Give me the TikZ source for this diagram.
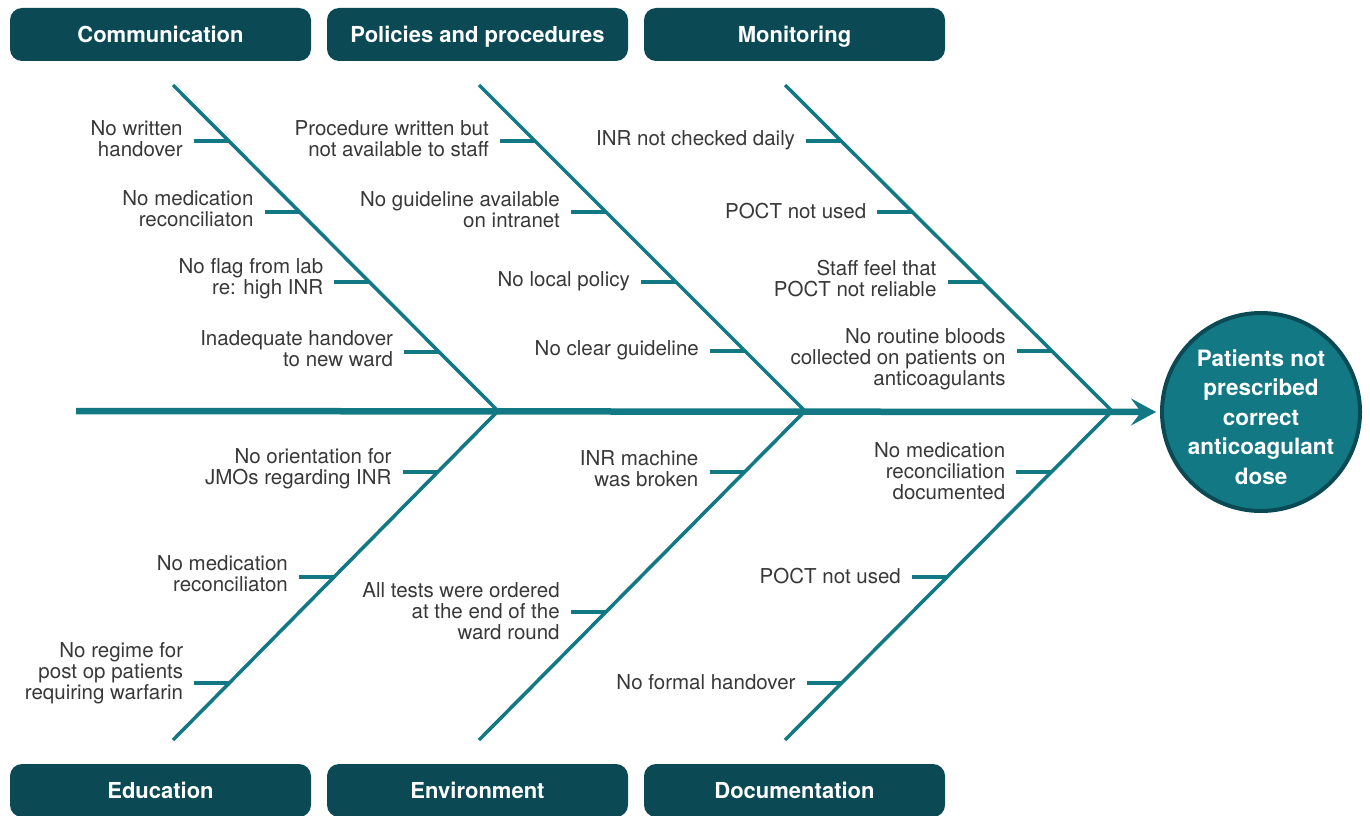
\documentclass[tikz,border=0pt]{standalone}
\usepackage{fontspec}
\setmainfont{TeX Gyre Heros}
\usetikzlibrary{arrows.meta,positioning,calc}

\definecolor{boxteal}{HTML}{0B4A54}
\definecolor{lineteal}{HTML}{127984}
\definecolor{txtgrey}{HTML}{383838}

\tikzset{
  catbox/.style={fill=boxteal, rounded corners=12pt, minimum width=301pt, minimum height=53pt,
    inner sep=0pt, text height=18.5pt, text depth=2.5pt, text=white,
    font=\fontsize{22}{26}\selectfont\bfseries},
  cause/.style={align=right, inner sep=0pt, text=txtgrey, font=\fontsize{20.5}{21}\selectfont},
  bone/.style={draw=lineteal, line width=3.5pt},
  tick/.style={draw=lineteal, line width=3.5pt},
  spine/.style={draw=lineteal, line width=6.5pt, -{Stealth[length=25pt,width=27pt,inset=10pt]}},
  effect/.style={circle, fill=lineteal, draw=boxteal, line width=4pt, minimum size=198pt, inner sep=0pt},
  effecttext/.style={align=center, inner sep=0pt, text=white, font=\fontsize{22.5}{29.5}\selectfont\bfseries},
}

\begin{document}
\begin{tikzpicture}[x=1pt,y=-1pt]
\useasboundingbox (0,0) rectangle (1370,816);

% categories
\node[catbox] (comm) at (160.5,34.5) {Communication};
\node[catbox] (poli) at (477.5,34.5) {Policies and procedures};
\node[catbox] (moni) at (794.5,34.5) {Monitoring};
\node[catbox] (educ) at (160.5,790.5) {Education};
\node[catbox] (envi) at (477.5,790.5) {Environment};
\node[catbox] (docu) at (794.5,790.5) {Documentation};

% effect and spine
\node[effect] (problem) at (1261,412) {};
\node[effecttext] (problemtxt) at ([yshift=-5pt]problem.center) {Patients not\\prescribed\\correct\\anticoagulant\\dose};
\coordinate (tail) at (76,411);
\draw[spine] (tail) -- ([xshift=-4pt]problem.west);

% bones
\coordinate (commtop) at (173,85);
\coordinate (politop) at (479,85);
\coordinate (monitop) at (785,85);
\coordinate (jointA) at (498,411);
\coordinate (jointB) at (805,411);
\coordinate (jointC) at (1112,411);
\coordinate (educend) at (173,740);
\coordinate (enviend) at (479,740);
\coordinate (docuend) at (785,740);

\draw[bone] (commtop) -- (jointA) -- (educend);
\draw[bone] (politop) -- (jointB) -- (enviend);
\draw[bone] (monitop) -- (jointC) -- (docuend);

% causes: tick y / shift / text
\foreach \t/\s/\txt [count=\i] in {141/2/{No written\\handover}, 212/3/{No medication\\reconciliaton},
    282/3/{No flag from lab\\re: high INR}, 352/3/{Inadequate handover\\to new ward}} {
  \coordinate (comm\i) at ($(commtop)!{(\t-85)/326}!(jointA)$);
  \node[cause, anchor=east] (commtxt\i) at ([xshift=-46pt,yshift=\s pt]comm\i) {\txt};
  \draw[tick] ([xshift=-35pt]comm\i) -- (comm\i);
}

\foreach \t/\s/\txt [count=\i] in {141/2/{Procedure written but\\not available to staff},
    212/2/{No guideline available\\on intranet}, 282/1/{No local policy}, 351/1/{No clear guideline}} {
  \coordinate (poli\i) at ($(politop)!{(\t-85)/326}!(jointB)$);
  \node[cause, anchor=east] (politxt\i) at ([xshift=-46pt,yshift=\s pt]poli\i) {\txt};
  \draw[tick] ([xshift=-35pt]poli\i) -- (poli\i);
}

\foreach \t/\s/\txt [count=\i] in {141/1/{INR not checked daily}, 212/1/{POCT not used},
    282/3/{Staff feel that\\POCT not reliable}, 351/-8/{No routine bloods\\collected on patients on\\anticoagulants}} {
  \coordinate (moni\i) at ($(monitop)!{(\t-85)/326}!(jointC)$);
  \node[cause, anchor=east] (monitxt\i) at ([xshift=-46pt,yshift=\s pt]moni\i) {\txt};
  \draw[tick] ([xshift=-35pt]moni\i) -- (moni\i);
}

\foreach \t/\s/\txt [count=\i] in {472/3/{No orientation for\\JMOs regarding INR},
    577/3/{No medication\\reconciliaton}, 683/10/{No regime for\\post op patients\\requiring warfarin}} {
  \coordinate (educ\i) at ($(jointA)!{(\t-411)/329}!(educend)$);
  \node[cause, anchor=east] (eductxt\i) at ([xshift=-46pt,yshift=\s pt]educ\i) {\txt};
  \draw[tick] ([xshift=-35pt]educ\i) -- (educ\i);
}

\foreach \t/\s/\txt [count=\i] in {472/3/{INR machine\\was broken},
    612/1/{All tests were ordered\\at the end of the\\ward round}} {
  \coordinate (envi\i) at ($(jointB)!{(\t-411)/329}!(enviend)$);
  \node[cause, anchor=east] (envitxt\i) at ([xshift=-46pt,yshift=\s pt]envi\i) {\txt};
  \draw[tick] ([xshift=-35pt]envi\i) -- (envi\i);
}

\foreach \t/\s/\txt [count=\i] in {472/1/{No medication\\reconciliation\\documented},
    577/1/{POCT not used}, 683/1/{No formal handover}} {
  \coordinate (docu\i) at ($(jointC)!{(\t-411)/329}!(docuend)$);
  \node[cause, anchor=east] (docutxt\i) at ([xshift=-46pt,yshift=\s pt]docu\i) {\txt};
  \draw[tick] ([xshift=-35pt]docu\i) -- (docu\i);
}

\end{tikzpicture}
\end{document}
